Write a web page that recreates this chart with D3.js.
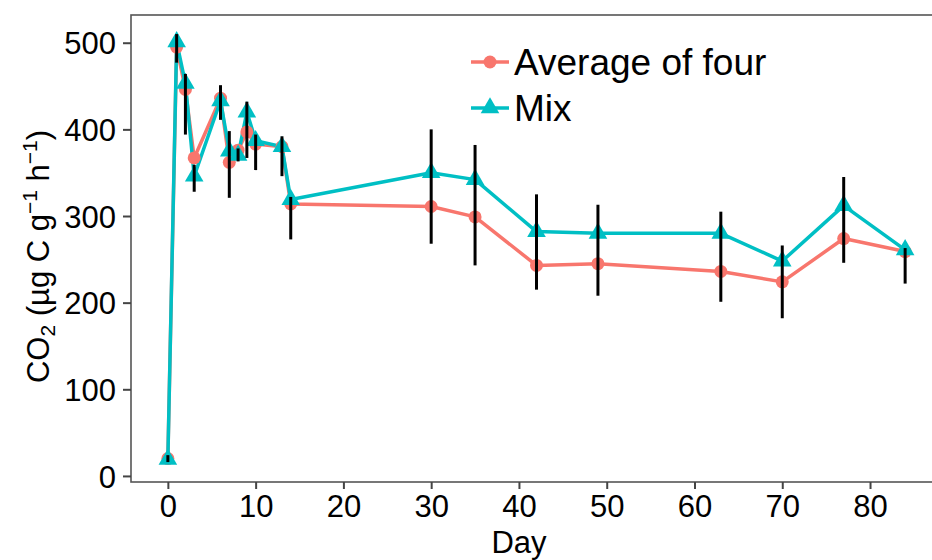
<!DOCTYPE html>
<html lang="en">
<head>
    <title>CO2 flux</title>
    <script src="https://d3js.org/d3.v7.min.js"></script>
    <style>
        body { margin: 0; padding: 0; background: #fff; }
        svg { display: block; font-family: "Liberation Sans", Arial, sans-serif; }
    </style>
</head>
<body>
<div id="chart"></div>
<script>
// values
const days    = [0, 1, 2, 3, 6, 7, 8, 9, 10, 13, 14, 30, 35, 42, 49, 63, 70, 77, 84];
const avgFour = [20, 495, 446, 367, 436, 362, 376, 397, 383, 380, 314, 311, 299, 243, 245, 236, 224, 274, 259];
const mix     = [19, 501, 453, 346, 433, 375, 370, 420, 387, 380, 319, 350, 342, 282, 280, 280, 248, 312, 261];
const errLow  = [16, 477, 394, 328, 411, 321, 363, 367, 353, 346, 273, 268, 243, 215, 208, 201, 182, 246, 222];
const errHigh = [24, 510, 464, 359, 451, 398, 378, 432, 394, 392, 322, 400, 382, 325, 313, 305, 266, 345, 263];
const xTicks  = [0, 10, 20, 30, 40, 50, 60, 70, 80];
const yTicks  = [0, 100, 200, 300, 400, 500];
const seriesNames  = ["Average of four", "Mix"];
const seriesColors = ["#F8766D", "#00BFC4"];

const width = 932, height = 560;
const panel = {left: 131, right: 942, top: 15, bottom: 482};

const x = d3.scaleLinear().domain([-4.2, 88.2]).range([panel.left, panel.right]);
const y = d3.scaleLinear().domain([-7, 532]).range([panel.bottom, panel.top]);

const svg = d3.select("#chart").append("svg")
    .attr("width", width)
    .attr("height", height);

// panel border
svg.append("rect")
    .attr("x", panel.left).attr("y", panel.top)
    .attr("width", panel.right - panel.left)
    .attr("height", panel.bottom - panel.top)
    .attr("fill", "none")
    .attr("stroke", "#555")
    .attr("stroke-width", 1.6);

// axes
const xAxis = svg.append("g")
    .attr("transform", `translate(0,${panel.bottom})`)
    .call(d3.axisBottom(x).tickValues(xTicks).tickSize(7).tickPadding(6).tickSizeOuter(0));
const yAxis = svg.append("g")
    .attr("transform", `translate(${panel.left},0)`)
    .call(d3.axisLeft(y).tickValues(yTicks).tickSize(8).tickPadding(7).tickSizeOuter(0));

[xAxis, yAxis].forEach(g => {
    g.select(".domain").remove();
    g.selectAll(".tick line").attr("stroke", "#444").attr("stroke-width", 2);
    g.selectAll(".tick text")
        .attr("fill", "#000")
        .style("font-size", "31px")
        .style("font-family", "'Liberation Sans', Arial, sans-serif");
});
yAxis.selectAll(".tick text").attr("dy", "0.36em");

// axis titles
svg.append("text")
    .attr("x", x(40)).attr("y", 553)
    .attr("text-anchor", "middle")
    .style("font-size", "31px")
    .text("Day");

const yTitle = svg.append("text")
    .attr("transform", `translate(49,${(panel.top + panel.bottom) / 2 + 8}) rotate(-90)`)
    .attr("text-anchor", "middle")
    .style("font-size", "31px");
yTitle.append("tspan").text("CO");
yTitle.append("tspan").attr("font-size", "21px").attr("dy", "6").text("2");
yTitle.append("tspan").attr("dy", "-6").text(" (µg C g");
yTitle.append("tspan").attr("font-size", "21px").attr("dy", "-12").text("−1");
yTitle.append("tspan").attr("dy", "12").text(" h");
yTitle.append("tspan").attr("font-size", "21px").attr("dy", "-12").text("−1");
yTitle.append("tspan").attr("dy", "12").text(")");

// series
const series = [avgFour, mix];
const line = d3.line().x((d, i) => x(days[i])).y(d => y(d));

series.forEach((vals, s) => {
    svg.append("path")
        .datum(vals)
        .attr("fill", "none")
        .attr("stroke", seriesColors[s])
        .attr("stroke-width", 3.5)
        .attr("stroke-linejoin", "round")
        .attr("d", line);
});

svg.selectAll(".pt-avg")
    .data(avgFour)
    .enter().append("circle")
    .attr("cx", (d, i) => x(days[i]))
    .attr("cy", d => y(d))
    .attr("r", 6.5)
    .attr("fill", seriesColors[0]);

const tri = d3.symbol().type(d3.symbolTriangle).size(150);
svg.selectAll(".pt-mix")
    .data(mix)
    .enter().append("path")
    .attr("transform", (d, i) => `translate(${x(days[i])},${y(d)})`)
    .attr("d", tri)
    .attr("fill", seriesColors[1]);

// error bars
svg.selectAll(".err")
    .data(days)
    .enter().append("line")
    .attr("x1", d => x(d)).attr("x2", d => x(d))
    .attr("y1", (d, i) => y(errLow[i]))
    .attr("y2", (d, i) => y(errHigh[i]))
    .attr("stroke", "#000")
    .attr("stroke-width", 3);

// legend
const legend = svg.append("g").attr("transform", "translate(471,0)");
const legendY = [62, 108];
seriesNames.forEach((name, s) => {
    const g = legend.append("g").attr("transform", `translate(0,${legendY[s]})`);
    g.append("line")
        .attr("x1", 0).attr("x2", 38)
        .attr("stroke", seriesColors[s]).attr("stroke-width", 3.5);
    if (s === 0) {
        g.append("circle").attr("cx", 19).attr("r", 6.5).attr("fill", seriesColors[s]);
    } else {
        g.append("path").attr("transform", "translate(19,0)").attr("d", tri).attr("fill", seriesColors[s]);
    }
    g.append("text")
        .attr("x", 43).attr("dy", "0.36em")
        .style("font-size", "37px")
        .text(name);
});
</script>
</body>
</html>
